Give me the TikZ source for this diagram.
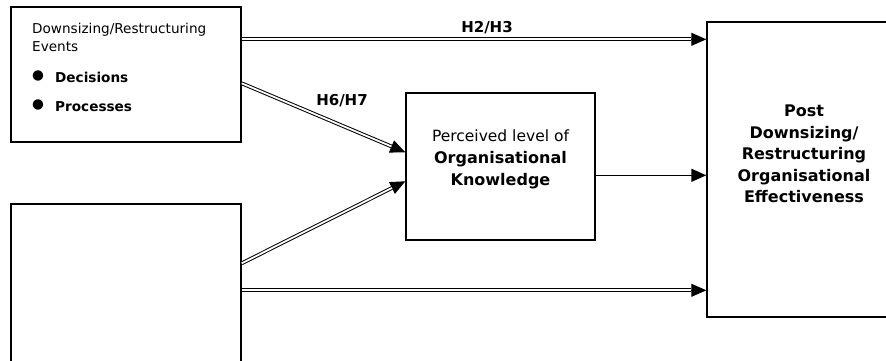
\documentclass[tikz,border=0pt]{standalone}
\usepackage{fontspec}
\setmainfont{DejaVu Sans}
\usetikzlibrary{arrows.meta,calc}
\begin{document}
\begin{tikzpicture}[x=1pt,y=-1pt,
  box/.style={draw, line width=1.4pt, inner sep=0pt},
  txt/.style={inner sep=0pt, font=\fontsize{13.6}{18}\selectfont},
  mid/.style={inner sep=0pt, align=center, font=\fontsize{15.5}{22}\selectfont},
  lbl/.style={inner sep=0pt, font=\fontsize{15}{17}\selectfont\bfseries},
  tip/.style={-{Triangle[length=15pt,width=13pt]}, line width=0.9pt},
  dbl/.style={double, line width=1pt, double distance=1.8pt, shorten >=15pt}]
\useasboundingbox (0,0) rectangle (886,361);
\clip (0,0) rectangle (886,361);
% boxes
\node[box, minimum width=230pt, minimum height=135pt] (A) at (126,74.5) {};
\node[box, minimum width=230pt, minimum height=200pt] (B) at (126,304) {};
\node[box, minimum width=189pt, minimum height=147pt] (K) at (500.5,166.5) {};
\node[box, minimum width=194pt, minimum height=295pt] (P) at (804,169.5) {};
% texts of A
\node[txt, anchor=base west] (a1) at (32,34) {Downsizing/Restructuring};
\node[txt, anchor=base west] (a2) at (32,52) {Events};
\node[txt, anchor=base west] (b1) at (32,80) {●};
\node[txt, anchor=base west] (b2) at (32,108) {●};
\node[txt, anchor=base west, font=\fontsize{13.6}{18}\selectfont\bfseries] (a3) at (55,82) {Decisions};
\node[txt, anchor=base west, font=\fontsize{13.6}{18}\selectfont\bfseries] (a4) at (55,111) {Processes};
% text of K
\node[mid] (kt) at (500.5,159) {Perceived level of\\{\fontsize{16}{22}\selectfont\bfseries Organisational}\\{\fontsize{16}{22}\selectfont\bfseries Knowledge}};
% text of P
\node[mid, font=\fontsize{16}{21.5}\selectfont\bfseries] (pt) at (804,154) {Post\\Downsizing/\\Restructuring\\Organisational\\Effectiveness};
% coordinates on box edges
\coordinate (a-h) at ($(A.north east)+(0,33)$);
\coordinate (a-k) at ($(A.north east)+(0,77)$);
\coordinate (b-k) at ($(B.north east)+(0,60)$);
\coordinate (b-p) at ($(B.north east)+(0,87)$);
\coordinate (k-a) at ($(K.north west)+(0,60)$);
\coordinate (k-b) at ($(K.north west)+(0,89)$);
\coordinate (k-p) at ($(K.north east)+(0,83)$);
\coordinate (p-a) at ($(P.north west)+(0,18)$);
\coordinate (p-k) at ($(P.north west)+(0,154)$);
\coordinate (p-b) at ($(P.north west)+(0,269)$);
% connectors
\draw[tip] (a-h) -- (p-a);
\draw[dbl] (a-h) -- (p-a);
\draw[tip] (a-k) -- (k-a);
\draw[dbl] (a-k) -- (k-a);
\draw[tip] (b-k) -- (k-b);
\draw[dbl] (b-k) -- (k-b);
\draw[tip] (b-p) -- (p-b);
\draw[dbl] (b-p) -- (p-b);
\draw[tip, line width=1.4pt] (k-p) -- (p-k);
% labels
\node[lbl] (h23) at (487,28) {H2/H3};
\node[lbl] (h67) at (342,101) {H6/H7};
\end{tikzpicture}
\end{document}
